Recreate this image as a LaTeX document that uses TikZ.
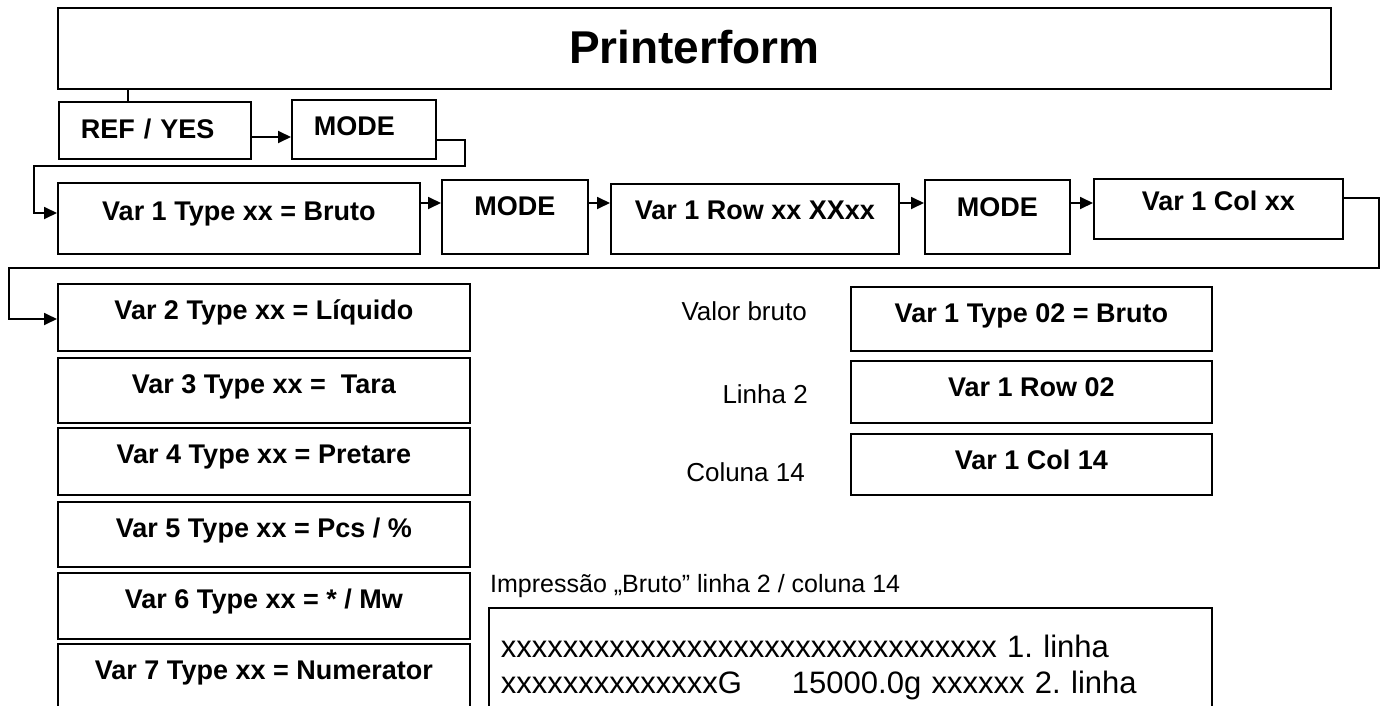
\documentclass[tikz,border=0pt]{standalone}
\usepackage{fontspec}
\setmainfont{Liberation Sans}
\frenchspacing
\usetikzlibrary{arrows.meta}
\tikzset{
  box/.style={draw, line width=1.8pt, rectangle, inner xsep=0pt, inner ysep=0pt, anchor=north west,
    font=\bfseries\fontsize{27}{32}\selectfont},
  leftpad/.style={inner xsep=22pt, text width=#1, align=left},
  arr/.style={line width=1.8pt, -{Triangle[length=13pt,width=12pt]}},
  ln/.style={line width=1.8pt},
  lbl/.style={font=\fontsize{26}{30}\selectfont, inner sep=0pt, anchor=base east},
}
\begin{document}
\begin{tikzpicture}[x=1pt,y=-1pt]
\useasboundingbox (0,0) rectangle (1386,706);
% title
\node[box, minimum width=1273pt, minimum height=81pt, text height=56pt, text depth=25pt,
  font=\bfseries\fontsize{46}{54}\selectfont] (title) at (57,7) {Printerform};
% first row
\node[box, leftpad=148pt, minimum height=57pt, text height=37pt, text depth=20pt] (ref) at (58,101) {REF / YES};
\node[box, leftpad=100pt, minimum height=59pt, text height=36pt, text depth=23pt] (m1) at (291,99) {MODE};
% second row
\node[box, minimum width=362pt, minimum height=71pt, text height=38pt, text depth=33pt] (v1) at (57,182) {Var 1 Type xx = Bruto};
\node[box, minimum width=146pt, minimum height=74pt, text height=36pt, text depth=38pt] (m2) at (441,179) {MODE};
\node[box, minimum width=288pt, minimum height=70pt, text height=36pt, text depth=34pt] (row) at (610,183) {Var 1 Row xx XXxx};
\node[box, minimum width=145pt, minimum height=74pt, text height=37pt, text depth=37pt] (m3) at (924,179) {MODE};
\node[box, minimum width=249pt, minimum height=60pt, text height=32pt, text depth=28pt] (col) at (1093,178) {Var 1 Col xx};
% left column
\node[box, minimum width=412pt, minimum height=67pt, text height=36pt, text depth=31pt] (v2) at (57,283) {Var 2 Type xx = Líquido};
\node[box, minimum width=412pt, minimum height=65pt, text height=36pt, text depth=29pt] (v3) at (57,357) {Var 3 Type xx =\ \ Tara};
\node[box, minimum width=412pt, minimum height=67pt, text height=36pt, text depth=31pt] (v4) at (57,427) {Var 4 Type xx = Pretare};
\node[box, minimum width=412pt, minimum height=65pt, text height=36pt, text depth=29pt] (v5) at (57,501) {Var 5 Type xx = Pcs / \%};
\node[box, minimum width=412pt, minimum height=66pt, text height=36pt, text depth=30pt] (v6) at (57,572) {Var 6 Type xx = * / Mw};
\node[box, minimum width=412pt, minimum height=77pt, text height=36pt, text depth=41pt] (v7) at (57,643) {Var 7 Type xx = Numerator};
% example boxes
\node[box, minimum width=361pt, minimum height=64pt, text height=36pt, text depth=28pt] (e1) at (850,286) {Var 1 Type 02 = Bruto};
\node[box, minimum width=361pt, minimum height=62pt, text height=36pt, text depth=26pt] (e2) at (850,360) {Var 1 Row 02};
\node[box, minimum width=361pt, minimum height=61pt, text height=36pt, text depth=25pt] (e3) at (850,433) {Var 1 Col 14};
\node[lbl] (l1) at (807,320) {Valor bruto};
\node[lbl] (l2) at (808,403) {Linha 2};
\node[lbl] (l3) at (805,481) {Coluna 14};
\node[inner sep=0pt, anchor=base west, font=\fontsize{25}{30}\selectfont] (hdr) at (490,592) {Impressão „Bruto” linha 2 / coluna 14};
\node[box, font=\fontsize{31}{36}\selectfont, inner xsep=12pt, text width=699pt, align=left,
  minimum height=123pt, text height=50pt, text depth=73pt] (out) at (488,607)
  {xxxxxxxxxxxxxxxxxxxxxxxxxxxxxxxx 1. linha\\xxxxxxxxxxxxxxG\hspace{50pt}15000.0g xxxxxx 2. linha};
% helper coordinates
\coordinate (tx) at (128,0);
\coordinate (y137) at (0,137);
\coordinate (a1) at (465,140);
\coordinate (a2) at (465,166);
\coordinate (a3) at (34,166);
\coordinate (a4) at (34,213);
\coordinate (y203) at (0,203);
\coordinate (c1) at (1379,198);
\coordinate (c2) at (1379,268);
\coordinate (c3) at (9,268);
\coordinate (c4) at (9,319);
% connectors
\draw[ln] (title.south -| tx) -- (ref.north -| tx);
\draw[arr] (ref.east |- y137) -- (m1.west |- y137);
\draw[arr] (m1.east |- a1) -- (a1) -- (a2) -- (a3) -- (a4) -- (v1.west |- a4);
\draw[arr] (v1.east |- y203) -- (m2.west |- y203);
\draw[arr] (m2.east |- y203) -- (row.west |- y203);
\draw[arr] (row.east |- y203) -- (m3.west |- y203);
\draw[arr] (m3.east |- y203) -- (col.west |- y203);
\draw[arr] (col.east |- c1) -- (c1) -- (c2) -- (c3) -- (c4) -- (v2.west |- c4);
\end{tikzpicture}
\end{document}
